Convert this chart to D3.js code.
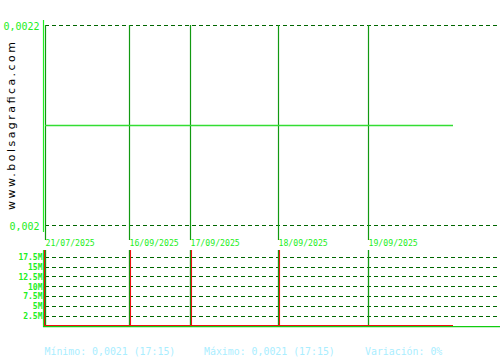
<!DOCTYPE html>
<html>
<head>
<meta charset="utf-8">
<script src="https://cdn.jsdelivr.net/npm/d3@7"></script>
<style>
  body { margin: 0; background: #fff; }
  svg { display: block; }
  .mono { font-family: "DejaVu Sans Mono", monospace; }
</style>
</head>
<body>
<svg width="500" height="360"></svg>
<script>
// session dates and the sample index where each session starts
const dates = ["21/07/2025", "16/09/2025", "17/09/2025", "18/09/2025", "19/09/2025"];
const sessionStart = [0, 84, 145, 233, 323];
const lastSample = 408;

// price samples (all flat at 0,0021)
const priceIdx = [0, 84, 145, 233, 323, 408];
const priceVal = [0.0021, 0.0021, 0.0021, 0.0021, 0.0021, 0.0021];
const priceTicks = [0.002, 0.0022];

// volume bars (go off the top of the panel)
const volIdx = [0, 84, 145, 233];
const volVal = [20000000, 20000000, 20000000, 20000000];
const volTicks = [2500000, 5000000, 7500000, 10000000, 12500000, 15000000, 17500000];

const svg = d3.select("svg");
const dark = "#006600";
const sep = "#119911";
const bright = "#22ee22";

const x = d3.scaleLinear().domain([0, lastSample]).range([45, 453]);
const y = d3.scaleLinear().domain([0.002, 0.0022]).range([225, 25]);
const yv = d3.scaleLinear().domain([0, 17500000]).range([325.3, 256.7]);

const fmtPrice = d => d3.format(".4~f")(d).replace(".", ",");
const fmtVol = d => (d / 1e6) + "M";

// watermark
svg.append("text")
  .attr("transform", "translate(15,210) rotate(-90)")
  .attr("textLength", 168)
  .attr("lengthAdjust", "spacing")
  .style("font-family", "DejaVu Sans")
  .style("font-size", "11px")
  .attr("fill", "#000")
  .text("www.bolsagrafica.com");

// price grid lines + labels
priceTicks.forEach(t => {
  svg.append("line")
    .attr("x1", 45).attr("x2", 500)
    .attr("y1", y(t) + 0.5).attr("y2", y(t) + 0.5)
    .attr("stroke", dark).attr("stroke-dasharray", "4,3");
  svg.append("text")
    .attr("class", "mono")
    .attr("x", 39.5).attr("y", y(t) + 2)
    .attr("text-anchor", "end")
    .attr("dominant-baseline", "middle")
    .style("font-size", "10px")
    .attr("fill", bright)
    .text(fmtPrice(t));
});

// volume grid lines + labels
volTicks.forEach(t => {
  svg.append("line")
    .attr("x1", 45).attr("x2", 500)
    .attr("y1", Math.round(yv(t)) + 0.5).attr("y2", Math.round(yv(t)) + 0.5)
    .attr("stroke", dark).attr("stroke-dasharray", "4,3");
  svg.append("text")
    .attr("class", "mono")
    .attr("x", 42.5).attr("y", yv(t) + 1)
    .attr("text-anchor", "end")
    .attr("dominant-baseline", "middle")
    .style("font-size", "8px")
    .style("font-weight", "bold")
    .attr("fill", bright)
    .text(fmtVol(t));
});

// session separators and date labels
sessionStart.forEach((s, i) => {
  const px = Math.round(x(s)) + 0.5;
  svg.append("line")
    .attr("x1", px).attr("x2", px).attr("y1", 25).attr("y2", 240)
    .attr("stroke", sep).attr("stroke-width", 1.2);
  svg.append("line")
    .attr("x1", px).attr("x2", px).attr("y1", 250).attr("y2", 326)
    .attr("stroke", sep).attr("stroke-width", 1.3);
  svg.append("text")
    .attr("class", "mono")
    .attr("x", px).attr("y", 243.5)
    .attr("dominant-baseline", "middle")
    .style("font-size", "8.2px")
    .attr("fill", bright)
    .text(dates[i]);
});

// left axis lines
svg.append("line").attr("x1", 43.5).attr("x2", 43.5).attr("y1", 20).attr("y2", 232)
  .attr("stroke", bright).attr("stroke-width", 1.2);
svg.append("line").attr("x1", 43.5).attr("x2", 43.5).attr("y1", 250).attr("y2", 327)
  .attr("stroke", bright).attr("stroke-width", 1.2);

// price line
svg.append("path")
  .datum(priceIdx.map((d, i) => [d, priceVal[i]]))
  .attr("fill", "none")
  .attr("stroke", "#33dd33")
  .attr("stroke-width", 1.3)
  .attr("d", d3.line().x(d => x(d[0])).y(d => y(d[1]) + 0.5));

// volume bars, clipped to the panel
svg.append("clipPath").attr("id", "vclip")
  .append("rect").attr("x", 40).attr("y", 250).attr("width", 460).attr("height", 80);
svg.append("g").attr("clip-path", "url(#vclip)")
  .selectAll("line.vol")
  .data(volIdx.map((d, i) => [d, volVal[i]]))
  .join("line")
  .attr("class", "vol")
  .attr("x1", d => Math.round(x(d[0])) + (d[0] === 0 ? -0.5 : 1.5))
  .attr("x2", d => Math.round(x(d[0])) + (d[0] === 0 ? -0.5 : 1.5))
  .attr("y1", yv(0))
  .attr("y2", d => yv(d[1]))
  .attr("stroke", "#ee1111")
  .attr("stroke-width", 1.1);

// baselines
svg.append("line").attr("x1", 44).attr("x2", x(lastSample)).attr("y1", 325.5).attr("y2", 325.5)
  .attr("stroke", "#ee1111").attr("stroke-width", 1.1);
svg.append("line").attr("x1", 43).attr("x2", 500).attr("y1", 326.6).attr("y2", 326.6)
  .attr("stroke", "#11cc11").attr("stroke-width", 1.2);

// footer summary
const footer = [
  ["Mínimo: 0,0021 (17:15)", 44.5],
  ["Máximo: 0,0021 (17:15)", 204],
  ["Variación: 0%", 365]
];
footer.forEach(([t, fx]) => {
  svg.append("text")
    .attr("class", "mono")
    .attr("x", fx).attr("y", 352)
    .attr("dominant-baseline", "middle")
    .style("font-size", "9.9px")
    .attr("fill", "#aaeeff")
    .text(t);
});
</script>
</body>
</html>
